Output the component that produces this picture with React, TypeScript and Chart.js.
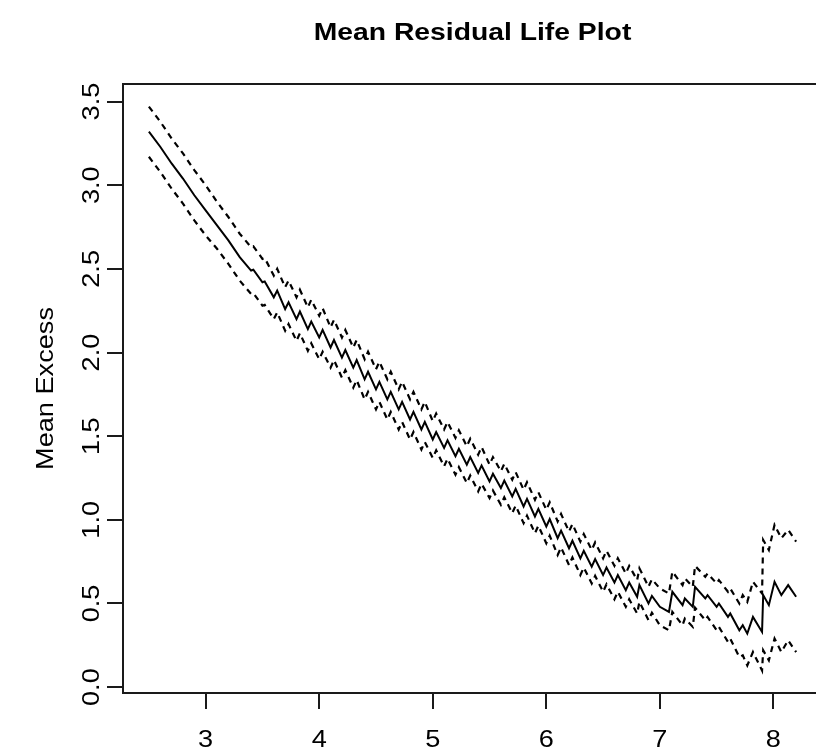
import React, { useEffect, useRef } from "react";
import { Chart, registerables } from "chart.js";

Chart.register(...registerables);

const TITLE = "Mean Residual Life Plot";
const Y_TITLE = "Mean Excess";

const thresholds = [
  2.5, 2.6, 2.7, 2.8, 2.9, 3.0, 3.1, 3.2, 3.3, 3.4, 3.42, 3.5, 3.52,
  3.6, 3.63, 3.7, 3.73, 3.8, 3.83, 3.9, 3.93, 4.0, 4.03, 4.1, 4.13, 4.2, 4.23,
  4.3, 4.33, 4.4, 4.43, 4.5, 4.53, 4.6, 4.63, 4.7, 4.73, 4.8, 4.83, 4.9, 4.93,
  5.0, 5.03, 5.1, 5.13, 5.2, 5.23, 5.3, 5.33, 5.4, 5.43, 5.5, 5.53, 5.6, 5.63,
  5.7, 5.73, 5.8, 5.83, 5.9, 5.93, 6.0, 6.03, 6.1, 6.13, 6.2, 6.23, 6.3, 6.33,
  6.4, 6.43, 6.5, 6.53, 6.6, 6.63, 6.7, 6.73, 6.8, 6.82, 6.9, 6.93,
  7.0, 7.08, 7.11, 7.2, 7.22, 7.29, 7.31, 7.4, 7.42, 7.5, 7.52, 7.6, 7.62,
  7.7, 7.73, 7.77, 7.82, 7.9, 7.91, 7.96, 8.01, 8.07, 8.13, 8.2,
];

const meanExcess = [
  3.32, 3.23, 3.13, 3.04, 2.94, 2.85, 2.76, 2.67, 2.57, 2.49, 2.495, 2.42, 2.425,
  2.33, 2.37, 2.26, 2.3, 2.2, 2.245, 2.14, 2.185, 2.09, 2.135, 2.03, 2.075, 1.97, 2.015,
  1.91, 1.955, 1.84, 1.885, 1.78, 1.825, 1.72, 1.765, 1.66, 1.705, 1.6, 1.645, 1.54, 1.585,
  1.48, 1.525, 1.43, 1.475, 1.38, 1.425, 1.33, 1.375, 1.28, 1.325, 1.23, 1.275, 1.19, 1.235,
  1.14, 1.185, 1.08, 1.125, 1.02, 1.065, 0.96, 1.005, 0.89, 0.935, 0.83, 0.875, 0.77, 0.815,
  0.72, 0.765, 0.67, 0.715, 0.625, 0.67, 0.58, 0.625, 0.54, 0.61, 0.5, 0.545,
  0.48, 0.45, 0.57, 0.49, 0.53, 0.48, 0.6, 0.53, 0.55, 0.48, 0.5, 0.42, 0.44,
  0.34, 0.37, 0.32, 0.42, 0.33, 0.55, 0.49, 0.63, 0.55, 0.61, 0.54,
];

const upperCI = [
  3.47, 3.38, 3.28, 3.19, 3.09, 3.0, 2.9, 2.81, 2.71, 2.63, 2.635, 2.56, 2.565,
  2.46, 2.5, 2.39, 2.43, 2.33, 2.375, 2.27, 2.315, 2.22, 2.265, 2.15, 2.195, 2.09, 2.135,
  2.03, 2.075, 1.96, 2.005, 1.9, 1.945, 1.84, 1.885, 1.78, 1.825, 1.72, 1.765, 1.66, 1.705,
  1.59, 1.635, 1.54, 1.585, 1.49, 1.535, 1.44, 1.485, 1.39, 1.435, 1.33, 1.375, 1.29, 1.335,
  1.24, 1.285, 1.18, 1.225, 1.12, 1.165, 1.06, 1.105, 0.99, 1.035, 0.93, 0.975, 0.87, 0.915,
  0.82, 0.865, 0.77, 0.815, 0.725, 0.77, 0.68, 0.725, 0.64, 0.71, 0.6, 0.645,
  0.59, 0.56, 0.69, 0.61, 0.65, 0.6, 0.725, 0.66, 0.68, 0.62, 0.64, 0.57, 0.59,
  0.5, 0.55, 0.51, 0.63, 0.56, 0.88, 0.82, 0.97, 0.89, 0.94, 0.87,
];

const lowerCI = [
  3.17, 3.08, 2.98, 2.89, 2.79, 2.7, 2.62, 2.53, 2.43, 2.35, 2.355, 2.28, 2.285,
  2.2, 2.24, 2.13, 2.17, 2.07, 2.115, 2.01, 2.055, 1.96, 2.005, 1.91, 1.955, 1.85, 1.895,
  1.79, 1.835, 1.72, 1.765, 1.66, 1.705, 1.6, 1.645, 1.54, 1.585, 1.48, 1.525, 1.42, 1.465,
  1.37, 1.415, 1.32, 1.365, 1.27, 1.315, 1.22, 1.265, 1.17, 1.215, 1.13, 1.175, 1.09, 1.135,
  1.04, 1.085, 0.98, 1.025, 0.92, 0.965, 0.86, 0.905, 0.79, 0.835, 0.73, 0.775, 0.67, 0.715,
  0.62, 0.665, 0.57, 0.615, 0.525, 0.57, 0.48, 0.525, 0.44, 0.51, 0.4, 0.445,
  0.37, 0.34, 0.45, 0.37, 0.41, 0.36, 0.475, 0.4, 0.42, 0.34, 0.36, 0.27, 0.29,
  0.18, 0.19, 0.13, 0.21, 0.1, 0.22, 0.16, 0.29, 0.21, 0.28, 0.21,
];

const X_MIN = 2.272;
const X_MAX = 8.428;
const Y_MIN = -0.035;
const Y_MAX = 3.605;

const FONT = '"Liberation Sans", Arial, Helvetica, sans-serif';
const SX = 1.18;
const TITLE_SX = 1.155;

const textPlugin = {
  id: "rStyleText",
  afterDraw(chart: any) {
    const { ctx, chartArea, scales } = chart;
    ctx.save();
    // top frame line
    ctx.strokeStyle = "#1a1a1a";
    ctx.lineWidth = 2;
    ctx.beginPath();
    ctx.moveTo(chartArea.left - 1, Math.round(chartArea.top));
    ctx.lineTo(chart.width, Math.round(chartArea.top));
    ctx.stroke();

    ctx.fillStyle = "#000";
    // title
    ctx.save();
    ctx.font = `bold 24.5px ${FONT}`;
    ctx.textAlign = "center";
    ctx.textBaseline = "alphabetic";
    ctx.translate((chartArea.left + chartArea.right) / 2, 40);
    ctx.scale(TITLE_SX, 1);
    ctx.fillText(TITLE, 0, 0);
    ctx.restore();

    // x tick labels
    ctx.font = `23px ${FONT}`;
    ctx.textAlign = "center";
    ctx.textBaseline = "alphabetic";
    for (const t of scales.x.ticks) {
      const px = scales.x.getPixelForValue(t.value);
      ctx.save();
      ctx.translate(px, 747);
      ctx.scale(SX, 1);
      ctx.fillText(String(t.value), 0, 0);
      ctx.restore();
    }
    // y tick labels (rotated)
    for (const t of scales.y.ticks) {
      const py = scales.y.getPixelForValue(t.value);
      ctx.save();
      ctx.translate(99, py);
      ctx.rotate(-Math.PI / 2);
      ctx.scale(SX, 1);
      ctx.fillText(Number(t.value).toFixed(1), 0, 0);
      ctx.restore();
    }
    // y axis title
    ctx.save();
    ctx.translate(53, (chartArea.top + chartArea.bottom) / 2);
    ctx.rotate(-Math.PI / 2);
    ctx.scale(SX, 1);
    ctx.fillText(Y_TITLE, 0, 0);
    ctx.restore();

    ctx.restore();
  },
};

export default function App() {
  const canvasRef = useRef<HTMLCanvasElement | null>(null);

  useEffect(() => {
    const canvas = canvasRef.current;
    if (!canvas) return;
    const toPts = (ys: number[]) => thresholds.map((x, i) => ({ x, y: ys[i] }));
    const axisGrid = {
      drawOnChartArea: false,
      drawTicks: true,
      tickLength: 16,
      color: "#1a1a1a",
      lineWidth: 2,
    };
    const axisBorder = { display: true, color: "#1a1a1a", width: 2 };
    const chart = new Chart(canvas, {
      type: "line",
      data: {
        datasets: [
          {
            label: "Mean Excess",
            data: toPts(meanExcess),
            borderColor: "#000",
            borderWidth: 2,
            pointRadius: 0,
            tension: 0,
            fill: false,
          },
          {
            label: "Upper",
            data: toPts(upperCI),
            borderColor: "#000",
            borderWidth: 2.2,
            borderDash: [6, 5],
            pointRadius: 0,
            tension: 0,
            fill: false,
          },
          {
            label: "Lower",
            data: toPts(lowerCI),
            borderColor: "#000",
            borderWidth: 2.2,
            borderDash: [6, 5],
            pointRadius: 0,
            tension: 0,
            fill: false,
          },
        ],
      },
      options: {
        animation: false,
        responsive: false,
        events: [],
        layout: { padding: { top: 84, right: 8, left: 0, bottom: 0 } },
        plugins: {
          legend: { display: false },
          tooltip: { enabled: false },
          title: { display: false },
        },
        scales: {
          x: {
            type: "linear",
            min: X_MIN,
            max: X_MAX,
            afterFit: (s: any) => {
              s.height = 56;
            },
            ticks: { display: false, stepSize: 1, includeBounds: false },
            grid: axisGrid,
            border: axisBorder,
          },
          y: {
            type: "linear",
            min: Y_MIN,
            max: Y_MAX,
            afterFit: (s: any) => {
              s.width = 123;
            },
            ticks: { display: false, stepSize: 0.5, includeBounds: false },
            grid: axisGrid,
            border: axisBorder,
          },
        },
      } as any,
      plugins: [textPlugin],
    });
    return () => chart.destroy();
  }, []);

  return (
    <div
      style={{
        position: "fixed",
        left: 0,
        top: 0,
        width: 816,
        height: 749,
        overflow: "hidden",
        background: "#fff",
      }}
    >
      <canvas ref={canvasRef} width={830} height={749} style={{ display: "block" }} />
    </div>
  );
}
